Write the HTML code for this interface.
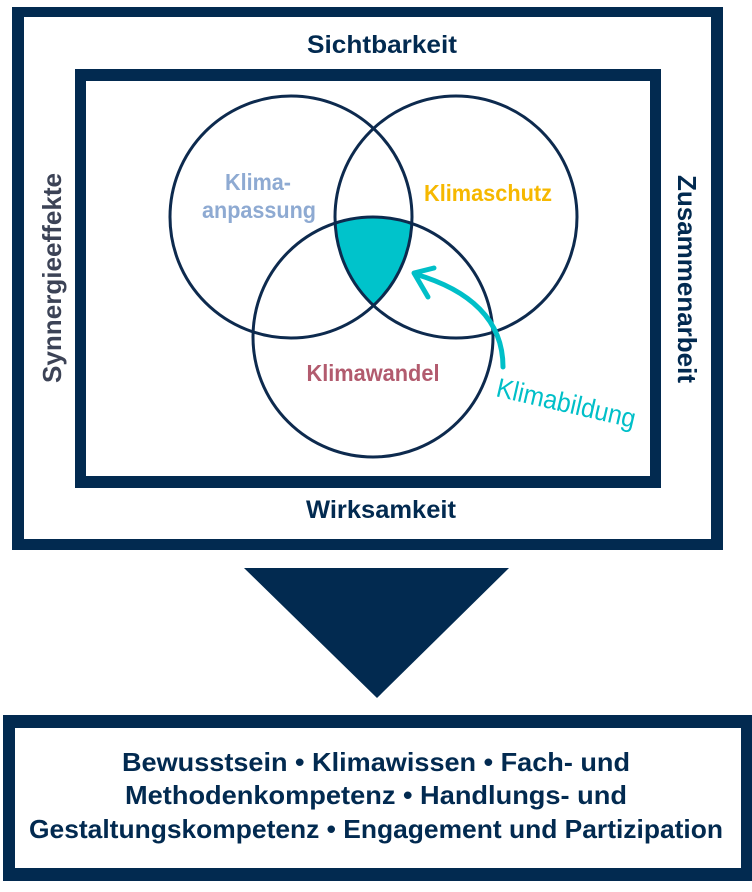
<!DOCTYPE html>
<html><head><meta charset="utf-8"><style>
html,body{margin:0;padding:0;background:#fff;}
svg{display:block;}
text{font-family:"Liberation Sans",sans-serif;font-weight:bold;}
</style></head><body>
<svg width="752" height="892" viewBox="0 0 752 892" xmlns="http://www.w3.org/2000/svg">
<defs>
<clipPath id="cL"><circle cx="291" cy="217" r="121"/></clipPath>
<clipPath id="cR"><circle cx="456" cy="217" r="121"/></clipPath>
</defs>
<rect x="12" y="7" width="711" height="543" fill="#022a50"/>
<rect x="24" y="17" width="687" height="522" fill="#fff"/>
<rect x="75" y="69" width="586" height="419" fill="#022a50"/>
<rect x="86" y="81" width="564" height="395" fill="#fff"/>
<text x="382" y="53" font-size="25" fill="#022a50" text-anchor="middle" textLength="150" lengthAdjust="spacingAndGlyphs">Sichtbarkeit</text>
<text x="381" y="518" font-size="25" fill="#022a50" text-anchor="middle" textLength="150" lengthAdjust="spacingAndGlyphs">Wirksamkeit</text>
<text transform="translate(61,278) rotate(-90)" font-size="26" fill="#3c4356" text-anchor="middle" textLength="210" lengthAdjust="spacingAndGlyphs">Synnergieeffekte</text>
<text transform="translate(678,279) rotate(90)" font-size="26" fill="#022a50" text-anchor="middle" textLength="208" lengthAdjust="spacingAndGlyphs">Zusammenarbeit</text>
<g clip-path="url(#cL)"><g clip-path="url(#cR)"><circle cx="373" cy="337" r="120" fill="#00c3cb"/></g></g>
<g fill="none" stroke="#0d2a4e" stroke-width="3">
<circle cx="291" cy="217" r="121"/>
<circle cx="456" cy="217" r="121"/>
<circle cx="373" cy="337" r="120"/>
</g>
<text x="258" y="190" font-size="23" fill="#8eaad2" text-anchor="middle" textLength="66" lengthAdjust="spacingAndGlyphs">Klima-</text>
<text x="259" y="218" font-size="23" fill="#8eaad2" text-anchor="middle" textLength="114" lengthAdjust="spacingAndGlyphs">anpassung</text>
<text x="488" y="201" font-size="23" fill="#f6b800" text-anchor="middle" textLength="128" lengthAdjust="spacingAndGlyphs">Klimaschutz</text>
<text x="373" y="381" font-size="23" fill="#b25b6e" text-anchor="middle" textLength="133" lengthAdjust="spacingAndGlyphs">Klimawandel</text>
<g fill="none" stroke="#00bfc8" stroke-width="5" stroke-linecap="round" stroke-linejoin="round">
<path d="M503,367 C503,320 470,290 415,274"/>
<path d="M434,268 L414,273 L428,297"/>
</g>
<text transform="translate(495,396) rotate(13)" font-size="27" fill="#00bfc8" textLength="142" lengthAdjust="spacingAndGlyphs" style="font-weight:normal">Klimabildung</text>
<polygon points="244,568 509,568 377,698" fill="#022a50"/>
<rect x="3" y="715" width="749" height="166" fill="#022a50"/>
<rect x="15" y="728" width="726" height="140" fill="#fff"/>
<g font-size="26" fill="#022a50">
<text x="122" y="771" textLength="508" lengthAdjust="spacingAndGlyphs">Bewusstsein  •  Klimawissen  •  Fach- und</text>
<text x="125" y="804" textLength="502" lengthAdjust="spacingAndGlyphs">Methodenkompetenz  •  Handlungs- und</text>
<text x="29" y="838" textLength="694" lengthAdjust="spacingAndGlyphs">Gestaltungskompetenz  • Engagement und Partizipation</text>
</g>
</svg>
</body></html>
